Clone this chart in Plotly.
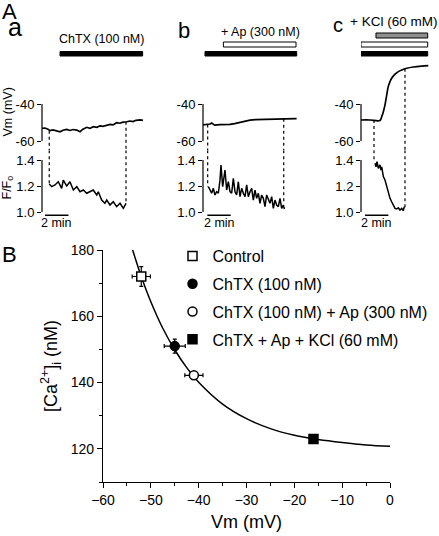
import plotly.graph_objects as go

# ---------------- Panel A data (time in min) ----------------
# a: ChTX
vm_a_t = [0.0, 0.26, 0.51, 0.68, 0.94, 1.2, 1.54, 1.79, 2.11, 2.39, 2.65, 2.97, 3.25, 3.5, 3.82,
          4.1, 4.38, 4.7, 4.96, 5.21, 5.53, 5.81, 6.07, 6.38, 6.67, 6.92, 7.24, 7.52, 7.78, 8.03,
          8.38, 8.63]
vm_a_v = [-53.1, -53.0, -53.6, -54.4, -54.0, -54.6, -55.0, -54.2, -53.7, -54.3, -53.8, -54.1,
          -55.0, -53.6, -52.6, -53.2, -52.3, -52.6, -51.8, -52.1, -51.4, -51.0, -51.3, -50.1,
          -50.4, -49.8, -49.6, -49.2, -49.5, -48.8, -48.6, -48.9]
f_a_t = [0.62, 0.83, 1.11, 1.39, 1.68, 1.82, 2.11, 2.39, 2.68, 2.97, 3.25, 3.53, 3.82, 4.10,
         4.38, 4.68, 4.81, 5.10, 5.38, 5.53, 5.81, 6.09, 6.38, 6.67, 6.95, 7.18]
f_a_v = [1.215, 1.195, 1.208, 1.233, 1.182, 1.246, 1.200, 1.233, 1.169, 1.195, 1.156, 1.169,
         1.144, 1.156, 1.169, 1.131, 1.156, 1.092, 1.067, 1.092, 1.054, 1.079, 1.041, 1.067,
         1.028, 1.067]
marks_a_t = [0.62, 7.18]
marks_a_vm = [-54.4, -49.6]
marks_a_f = [1.215, 1.07]

# b: ChTX + Ap
vm_b_t = [0.0, 0.2, 0.43, 0.6, 0.74, 0.85, 1.0, 1.45, 2.0, 2.31, 2.7, 3.16, 3.6, 4.02, 4.5,
          4.87, 5.5, 6.15, 7.0, 8.0]
vm_b_v = [-51.3, -51.2, -51.1, -50.8, -50.3, -51.0, -51.4, -51.2, -51.2, -51.0, -50.6, -49.9,
          -49.2, -48.7, -48.4, -48.3, -48.2, -48.1, -48.0, -47.9]
f_b_t = [0.456, 0.598, 0.741, 0.883, 1.026, 1.168, 1.31, 1.453, 1.538, 1.681, 1.795, 1.88,
         2.023, 2.165, 2.308, 2.45, 2.593, 2.735, 2.878, 3.02, 3.162, 3.305, 3.447, 3.59,
         3.732, 3.875, 4.017, 4.16, 4.302, 4.444, 4.587, 4.729, 4.872, 5.014, 5.157, 5.299,
         5.442, 5.584, 5.726, 5.869, 6.011, 6.154, 6.296, 6.439, 6.581, 6.724, 6.866, 6.952]
f_b_v = [1.195, 1.169, 1.144, 1.182, 1.131, 1.156, 1.144, 1.246, 1.362, 1.195, 1.272, 1.323,
         1.169, 1.233, 1.156, 1.144, 1.259, 1.156, 1.131, 1.233, 1.118, 1.182, 1.144, 1.118,
         1.208, 1.118, 1.156, 1.182, 1.092, 1.169, 1.105, 1.144, 1.067, 1.131, 1.105, 1.041,
         1.131, 1.092, 1.067, 1.118, 1.028, 1.092, 1.054, 1.041, 1.105, 1.028, 1.054, 1.023]
marks_b_t = [0.4, 6.9]
marks_b_vm = [-51.1, -48.0]
marks_b_f = [1.195, 1.06]

# c: ChTX + Ap + KCl
vm_c_t = [0.0, 0.77, 1.62, 1.77, 1.91, 2.05, 2.2, 2.33, 2.48, 2.62, 2.91, 3.19, 3.48, 3.91,
          4.47, 5.19, 5.75]
vm_c_v = [-48.65, -48.65, -48.9, -46.9, -44.2, -40.5, -35.1, -30.6, -27.9, -26.1, -23.9,
          -22.5, -21.6, -20.7, -20.0, -19.5, -19.3]
f_c_t = [1.2, 1.28, 1.37, 1.48, 1.62, 1.71, 1.77, 1.91, 2.05, 2.2, 2.33, 2.48, 2.62, 2.76,
         2.91, 3.05, 3.19, 3.33, 3.48, 3.62, 3.70]
f_c_v = [1.375, 1.348, 1.387, 1.336, 1.362, 1.323, 1.348, 1.272, 1.246, 1.195, 1.144, 1.105,
         1.079, 1.054, 1.028, 1.023, 1.033, 1.015, 1.028, 1.01, 1.041]
marks_c_t = [1.11, 3.76]
marks_c_vm = [-48.65, -20.9]
marks_c_f = [1.39, 1.023]

# drug application bars (start, end in min)
drug_a_labels = ["ChTX (100 nM)"]
drug_a_start = [1.54]
drug_a_end = [8.6]
drug_b_labels = ["ChTX", "+ Ap (300 nM)"]
drug_b_start = [0.17, 1.74]
drug_b_end = [8.01, 7.95]
drug_c_labels = ["ChTX", "Ap", "+ KCl (60 mM)"]
drug_c_start = [0.0, 0.0, 1.28]
drug_c_end = [5.7, 5.7, 5.7]

scalebar_len = 2  # min
scalebar_start = [0.26, 0.37, 0.34]
vm_ticks = [-60, -40]
f_ticks = [1.0, 1.2, 1.4]

# ---------------- Panel B data ----------------
conditions = ["Control", "ChTX (100 nM)", "ChTX (100 nM) + Ap (300 nM)", "ChTX + Ap + KCl (60 mM)"]
vm_B = [-52.0, -45.0, -41.0, -16.0]
ca_B = [172.0, 151.0, 142.2, 123.0]
vm_B_err = [1.9, 2.2, 1.9, 0.5]
ca_B_err = [3.0, 2.1, 0.8, 0.5]
fit_vm = [-53.8, -52, -50, -47.5, -45, -42.5, -40, -35, -30, -25, -20, -15, -10, -5, 0]
fit_ca = [180.0, 172.0, 164.4, 156.4, 149.9, 144.5, 140.1, 133.5, 129.1, 126.1, 124.1, 122.8,
          121.9, 121.2, 120.8]

# ---------------- layout helpers ----------------
W, H = 439, 536
FONT = "Arial, Liberation Sans, Helvetica, sans-serif"


def pxx(x):
    return x / W


def pyy(y):
    return 1 - y / H


PX_PER_MIN = 11.7
VM_RANGE = [-65, -17]
VM_Y40, VM_PX_PER = 104.0, 1.85
F_Y10, F_PX_PER = 212.0, 130.0
vm_top_px = VM_Y40 - (VM_RANGE[1] + 40) * VM_PX_PER
vm_bot_px = VM_Y40 - (VM_RANGE[0] + 40) * VM_PX_PER
F_RANGE = [0.94, 1 + (F_Y10 - vm_bot_px) / F_PX_PER]
f_bot_px = F_Y10 - (F_RANGE[0] - 1) * F_PX_PER

panel_px = [(42, 145), (203, 298), (361, 431)]

fig = go.Figure()
layout = dict(template="none", width=W, height=H, margin=dict(l=0, r=0, t=0, b=0, pad=0),
              autosize=False, paper_bgcolor="white", plot_bgcolor="white",
              font=dict(family=FONT, color="black", size=13), showlegend=True)
shapes = []
annotations = []

panels = [
    (vm_a_t, vm_a_v, f_a_t, f_a_v, marks_a_t, marks_a_vm, marks_a_f),
    (vm_b_t, vm_b_v, f_b_t, f_b_v, marks_b_t, marks_b_vm, marks_b_f),
    (vm_c_t, vm_c_v, f_c_t, f_c_v, marks_c_t, marks_c_vm, marks_c_f),
]

for i, (vt, vv, ft, fv, mt, mvm, mf) in enumerate(panels):
    xn = "" if i == 0 else str(i + 1)
    yv = str(2 * i + 1) if i > 0 else ""
    yf = str(2 * i + 2)
    x0p, x1p = panel_px[i]
    layout["xaxis" + xn] = dict(domain=[pxx(x0p), pxx(x1p)], range=[0, (x1p - x0p) / PX_PER_MIN],
                                visible=False, anchor="y" + yv, automargin=False)
    common_y = dict(anchor="x" + xn, ticks="outside", ticklen=4, tickwidth=1.2, tickcolor="black",
                    showline=False, showgrid=False, zeroline=False, automargin=False,
                    tickfont=dict(size=13, family=FONT, color="black"))
    layout["yaxis" + yv] = dict(domain=[pyy(vm_bot_px), pyy(vm_top_px)], range=VM_RANGE,
                                tickvals=vm_ticks, ticktext=["%d" % v for v in vm_ticks], **common_y)
    layout["yaxis" + yf] = dict(domain=[pyy(f_bot_px), pyy(vm_bot_px)], range=F_RANGE,
                                tickvals=f_ticks, ticktext=["%.1f" % v for v in f_ticks], **common_y)
    # spines (bracket style)
    shapes.append(dict(type="line", xref="x%s domain" % xn, yref="y" + yv, x0=0, x1=0,
                       y0=vm_ticks[0], y1=vm_ticks[-1], line=dict(color="black", width=1.2)))
    shapes.append(dict(type="line", xref="x%s domain" % xn, yref="y" + yf, x0=0, x1=0,
                       y0=f_ticks[0], y1=f_ticks[-1], line=dict(color="black", width=1.2)))
    # traces
    fig.add_trace(go.Scatter(x=vt, y=vv, xaxis="x" + xn, yaxis="y" + yv, mode="lines",
                             line=dict(color="black", width=1.7, shape="spline" if i == 2 else "linear"),
                             showlegend=False, hoverinfo="skip"))
    fig.add_trace(go.Scatter(x=ft, y=fv, xaxis="x" + xn, yaxis="y" + yf, mode="lines",
                             line=dict(color="black", width=1.5), showlegend=False, hoverinfo="skip"))
    # dotted connector lines
    for t, v, f in zip(mt, mvm, mf):
        shapes.append(dict(type="line", xref="x" + xn, yref="y" + yv, x0=t, x1=t, y0=v,
                           y1=VM_RANGE[0], line=dict(color="black", width=1.2, dash="dot")))
        shapes.append(dict(type="line", xref="x" + xn, yref="y" + yf, x0=t, x1=t, y0=F_RANGE[1],
                           y1=f, line=dict(color="black", width=1.2, dash="dot")))
    # scale bar
    sb0 = scalebar_start[i]
    shapes.append(dict(type="line", xref="x" + xn, yref="y" + yf, x0=sb0, x1=sb0 + scalebar_len,
                       y0=0.975, y1=0.975, line=dict(color="black", width=1.5)))
    annotations.append(dict(xref="x" + xn, yref="y" + yf, x=sb0 + scalebar_len / 2, y=0.975,
                            text="%d min" % scalebar_len, showarrow=False, yanchor="top", yshift=1,
                            font=dict(size=12.5, family=FONT, color="black")))

# drug bars
BLACK_BAR = (51.5, 56)
OPEN_BAR = (42, 47)
GRAY_BAR = (33, 38)


def bar(xn, s, e, ypx, fill):
    return dict(type="rect", xref="x" + xn, yref="paper", x0=s, x1=e, y0=pyy(ypx[1]), y1=pyy(ypx[0]),
                fillcolor=fill, line=dict(color="black", width=1))


shapes.append(bar("", drug_a_start[0], drug_a_end[0], BLACK_BAR, "black"))
shapes.append(bar("2", drug_b_start[0], drug_b_end[0], BLACK_BAR, "black"))
shapes.append(bar("2", drug_b_start[1], drug_b_end[1], OPEN_BAR, "white"))
shapes.append(bar("3", drug_c_start[0], drug_c_end[0], BLACK_BAR, "black"))
shapes.append(bar("3", drug_c_start[1], drug_c_end[1], OPEN_BAR, "white"))
shapes.append(bar("3", drug_c_start[2], drug_c_end[2], GRAY_BAR, "#8f8f8f"))


def label(text, x, y, size, xanchor="center", yanchor="middle", angle=0):
    annotations.append(dict(xref="paper", yref="paper", x=pxx(x), y=pyy(y), text=text,
                            showarrow=False, xanchor=xanchor, yanchor=yanchor, textangle=angle,
                            font=dict(size=size, family=FONT, color="black")))


label(drug_a_labels[0], 101, 39, 12.5)
label(drug_b_labels[1], 260.5, 31.5, 12.5)
label(drug_c_labels[2], 393, 21, 13.5)
label("A", 0, 11, 22, xanchor="left")
label("a", 6, 27, 25, xanchor="left")
label("b", 176, 30.5, 22, xanchor="left")
label("c", 331, 25.5, 20, xanchor="left")
label("B", 0, 254.5, 22, xanchor="left")
label("Vm (mV)", 7.5, 112, 12.5, angle=-90)
label("F/F<sub>o</sub>", 7.5, 188, 12.5, angle=-90)

# ---------------- Panel B ----------------
layout["xaxis4"] = dict(domain=[pxx(103), pxx(390)], range=[-60, 0], anchor="y7", automargin=False,
                        tickmode="linear", tick0=-60, dtick=10, ticks="outside", ticklen=5,
                        tickwidth=1.2, tickcolor="black", showline=True, linecolor="black",
                        linewidth=1.2, showgrid=False, zeroline=False,
                        minor=dict(ticks="outside", ticklen=3, tickwidth=1.2, tickcolor="black",
                                   tick0=-60, dtick=5, showgrid=False),
                        tickfont=dict(size=14, family=FONT, color="black"),
                        title=dict(text="Vm (mV)", font=dict(size=18, family=FONT, color="black"),
                                   standoff=8))
layout["yaxis7"] = dict(domain=[pyy(482), pyy(250)], range=[110, 180], anchor="x4", automargin=False,
                        tickmode="linear", tick0=120, dtick=20, ticks="outside", ticklen=5,
                        tickwidth=1.2, tickcolor="black", showline=True, linecolor="black",
                        linewidth=1.2, showgrid=False, zeroline=False,
                        minor=dict(ticks="outside", ticklen=3, tickwidth=1.2, tickcolor="black",
                                   tick0=110, dtick=10, showgrid=False),
                        tickfont=dict(size=14, family=FONT, color="black"),
                        title=dict(text="[Ca<sup>2+</sup>]<sub>i</sub> (nM)",
                                   font=dict(size=18, family=FONT, color="black"), standoff=8))

fig.add_trace(go.Scatter(x=fit_vm, y=fit_ca, xaxis="x4", yaxis="y7", mode="lines",
                         line=dict(color="black", width=1.5, shape="spline"), showlegend=False,
                         hoverinfo="skip"))

marker_styles = [("square", "white"), ("circle", "black"), ("circle", "white"), ("square", "black")]
for k, name in enumerate(conditions):
    sym, fill = marker_styles[k]
    fig.add_trace(go.Scatter(
        x=[vm_B[k]], y=[ca_B[k]], xaxis="x4", yaxis="y7", mode="markers", name=name,
        legendgroup="g%d" % k,
        marker=dict(symbol=sym, size=9, color=fill, line=dict(color="black", width=1.5)),
        error_x=dict(type="data", array=[vm_B_err[k]], color="black", thickness=1.2, width=2),
        error_y=dict(type="data", array=[ca_B_err[k]], color="black", thickness=1.2, width=2),
        hoverinfo="skip"))

layout["legend"] = dict(x=pxx(172.5), y=pyy(239), xanchor="left", yanchor="top",
                        font=dict(size=16, family=FONT, color="black"), bgcolor="rgba(0,0,0,0)",
                        tracegroupgap=4, borderwidth=0)
layout["shapes"] = shapes
layout["annotations"] = annotations
fig.update_layout(**layout)

fig.write_html("out.html", config={"displayModeBar": False},
               post_script="document.body.style.margin='0px';")
